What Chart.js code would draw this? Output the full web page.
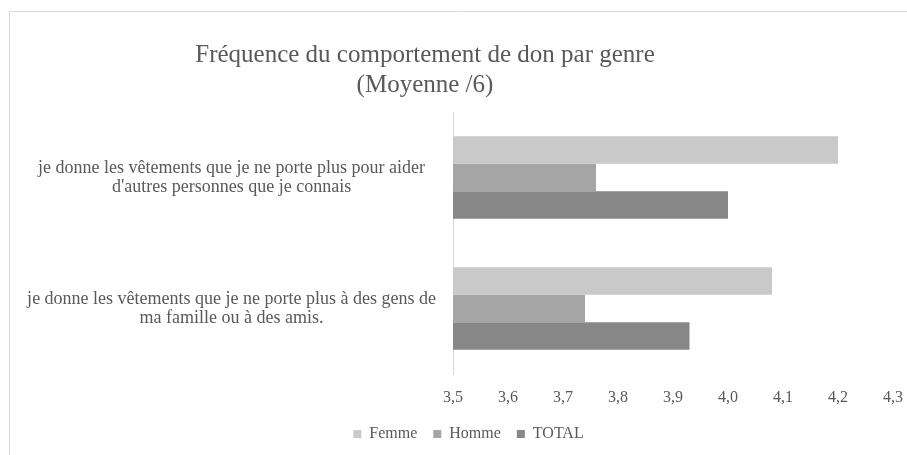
<!DOCTYPE html>
<html>
<head>
<meta charset="utf-8">
<script src="https://cdn.jsdelivr.net/npm/chart.js@4/dist/chart.umd.min.js"></script>
<style>
  html, body { margin: 0; background: #fff; }
  #wrap { width: 907px; height: 455px; position: relative; }
</style>
</head>
<body>
<div id="wrap"><canvas id="donChart"></canvas></div>
<script>
// Fréquence du comportement de don par genre (moyenne sur 6)
const categories = [
  ["je donne les vêtements que je ne porte plus pour aider", "d'autres personnes que je connais"],
  ["je donne les vêtements que je ne porte plus à des gens de", "ma famille ou à des amis."]
];
const seriesNames = ["Femme", "Homme", "TOTAL"];
const femme = [4.20, 4.08];
const homme = [3.76, 3.74];
const total = [4.00, 3.93];
const axisMin = 3.5;
const axisMax = 4.3;
const axisStep = 0.1;
const titleLines = ["Fréquence du comportement de don par genre", "(Moyenne /6)"];

const textColor = '#595959';
const serif = '"Liberation Serif", "Times New Roman", serif';

// chart frame (top + left edges only), two-line title, legend nudged right
const framePlugin = {
  id: 'frame',
  afterLayout(chart) {
    chart.legend.left += 34;
  },
  beforeDraw(chart) {
    const ctx = chart.ctx;
    ctx.save();
    ctx.strokeStyle = '#d9d9d9';
    ctx.lineWidth = 1;
    ctx.beginPath();
    ctx.moveTo(9.5, chart.height);
    ctx.lineTo(9.5, 11.5);
    ctx.lineTo(chart.width, 11.5);
    ctx.stroke();
    ctx.restore();
  },
  afterDraw(chart) {
    const ctx = chart.ctx;
    ctx.save();
    ctx.font = '25px ' + serif;
    ctx.fillStyle = textColor;
    ctx.textAlign = 'center';
    ctx.textBaseline = 'alphabetic';
    titleLines.forEach((line, i) => ctx.fillText(line, 425, 62 + i * 30));
    ctx.restore();
  }
};

const ctx = document.getElementById('donChart').getContext('2d');
new Chart(ctx, {
  type: 'bar',
  data: {
    labels: categories,
    datasets: [
      { label: seriesNames[0], data: femme, backgroundColor: '#c9c9c9' },
      { label: seriesNames[1], data: homme, backgroundColor: '#a5a5a5' },
      { label: seriesNames[2], data: total, backgroundColor: '#878787' }
    ]
  },
  options: {
    indexAxis: 'y',
    responsive: true,
    maintainAspectRatio: false,
    animation: false,
    layout: { padding: { top: 112, left: 10, right: 14, bottom: 3 } },
    datasets: {
      bar: { barPercentage: 1, categoryPercentage: 0.63 }
    },
    scales: {
      x: {
        min: axisMin,
        max: axisMax,
        grid: { display: false, drawTicks: false },
        border: { display: false },
        afterFit(scale) {
          scale.height = 36;
          scale.paddingLeft = 0;
          scale.paddingRight = 10;
        },
        ticks: {
          stepSize: axisStep,
          padding: 14,
          color: textColor,
          font: { family: serif, size: 16 },
          callback: v => v.toFixed(1).replace('.', ',')
        }
      },
      y: {
        grid: { display: false, drawTicks: false },
        border: { display: true, color: '#d9d9d9' },
        afterFit(scale) { scale.width = 443; },
        ticks: {
          crossAlign: 'center',
          padding: 17,
          color: textColor,
          font: { family: serif, size: 18, lineHeight: 1.03 }
        }
      }
    },
    plugins: {
      title: { display: false },
      tooltip: { enabled: false },
      legend: {
        position: 'bottom',
        labels: {
          boxWidth: 8,
          boxHeight: 8,
          padding: 16,
          color: textColor,
          font: { family: serif, size: 16 }
        }
      }
    }
  },
  plugins: [framePlugin]
});
</script>
</body>
</html>
